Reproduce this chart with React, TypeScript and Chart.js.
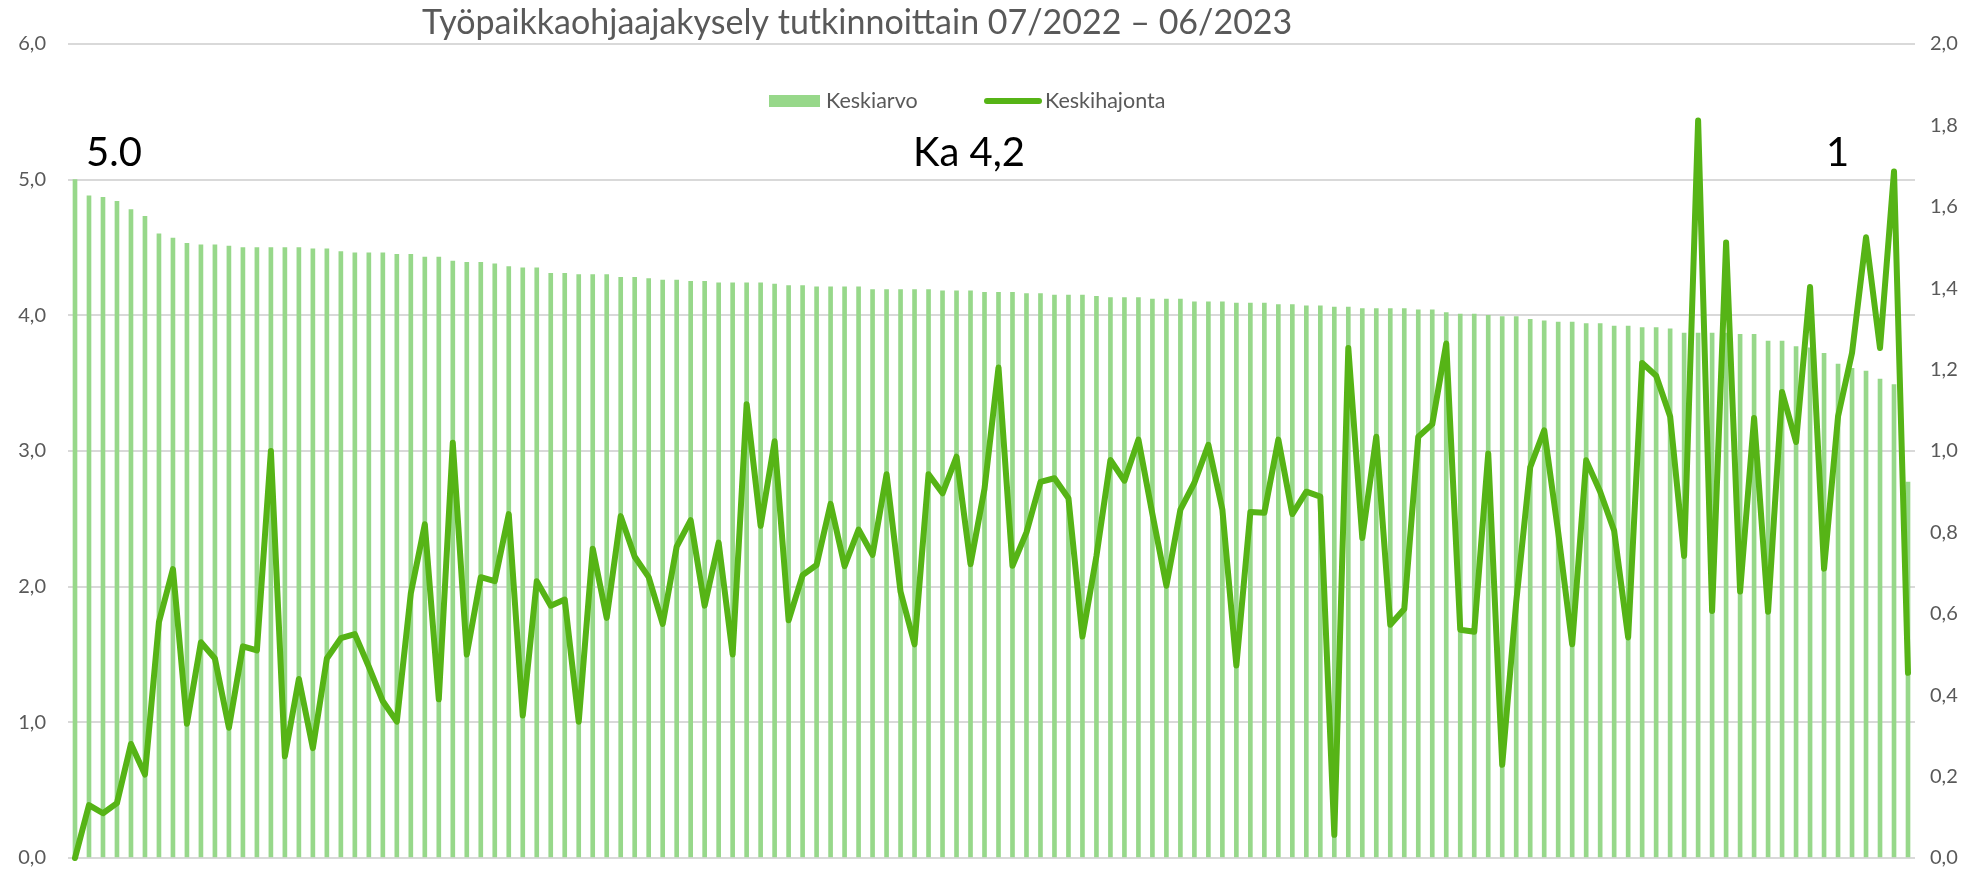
import React, { useEffect, useRef } from "react";
import { Chart, registerables } from "chart.js";

Chart.register(...registerables);

const keskiarvo: number[] = [
  5.00, 4.88, 4.87, 4.84, 4.78, 4.73, 4.60, 4.57, 4.53, 4.52,
  4.52, 4.51, 4.50, 4.50, 4.50, 4.50, 4.50, 4.49, 4.49, 4.47,
  4.46, 4.46, 4.46, 4.45, 4.45, 4.43, 4.43, 4.40, 4.39, 4.39,
  4.38, 4.36, 4.35, 4.35, 4.31, 4.31, 4.30, 4.30, 4.30, 4.28,
  4.28, 4.27, 4.26, 4.26, 4.25, 4.25, 4.24, 4.24, 4.24, 4.24,
  4.23, 4.22, 4.22, 4.21, 4.21, 4.21, 4.21, 4.19, 4.19, 4.19,
  4.19, 4.19, 4.18, 4.18, 4.18, 4.17, 4.17, 4.17, 4.16, 4.16,
  4.15, 4.15, 4.15, 4.14, 4.13, 4.13, 4.13, 4.12, 4.12, 4.12,
  4.10, 4.10, 4.10, 4.09, 4.09, 4.09, 4.08, 4.08, 4.07, 4.07,
  4.06, 4.06, 4.05, 4.05, 4.05, 4.05, 4.04, 4.04, 4.02, 4.01,
  4.01, 4.00, 3.99, 3.99, 3.97, 3.96, 3.95, 3.95, 3.94, 3.94,
  3.92, 3.92, 3.91, 3.91, 3.90, 3.87, 3.87, 3.87, 3.87, 3.86,
  3.86, 3.81, 3.81, 3.77, 3.76, 3.72, 3.64, 3.61, 3.59, 3.53,
  3.49, 2.77,
];

const keskihajonta: number[] = [
  0.00, 0.13, 0.11, 0.135, 0.28, 0.205, 0.58, 0.71, 0.33, 0.53,
  0.49, 0.32, 0.52, 0.51, 1.00, 0.25, 0.44, 0.27, 0.49, 0.54,
  0.55, 0.47, 0.385, 0.335, 0.65, 0.82, 0.39, 1.02, 0.50, 0.69,
  0.68, 0.845, 0.35, 0.68, 0.62, 0.635, 0.335, 0.76, 0.59, 0.84,
  0.74, 0.69, 0.575, 0.765, 0.83, 0.62, 0.775, 0.50, 1.115, 0.816,
  1.024, 0.584, 0.695, 0.72, 0.87, 0.717, 0.807, 0.745, 0.943, 0.654,
  0.525, 0.943, 0.896, 0.986, 0.722, 0.907, 1.205, 0.718, 0.80, 0.924,
  0.933, 0.884, 0.544, 0.742, 0.978, 0.927, 1.028, 0.845, 0.669, 0.856,
  0.922, 1.015, 0.856, 0.473, 0.850, 0.848, 1.028, 0.845, 0.90, 0.888,
  0.057, 1.253, 0.786, 1.035, 0.573, 0.612, 1.035, 1.066, 1.264, 0.561,
  0.556, 0.994, 0.229, 0.629, 0.96, 1.051, 0.80, 0.525, 0.977, 0.90,
  0.804, 0.542, 1.216, 1.185, 1.085, 0.742, 1.812, 0.607, 1.512, 0.655,
  1.081, 0.605, 1.145, 1.022, 1.403, 0.711, 1.085, 1.241, 1.525, 1.253,
  1.687, 0.455,
];

const categories: string[] = keskiarvo.map((_, i) => `Tutkinto ${i + 1}`);

const leftTickLabels = ["0,0", "1,0", "2,0", "3,0", "4,0", "5,0", "6,0"];
const rightTickLabels = ["0,0", "0,2", "0,4", "0,6", "0,8", "1,0", "1,2", "1,4", "1,6", "1,8", "2,0"];

const titleText = "Työpaikkaohjaajakysely tutkinnoittain 07/2022 – 06/2023";
const legendLabels = ["Keskiarvo", "Keskihajonta"];
const annotations = ["5.0", "Ka 4,2", "1"];

const BAR_COLOR = "#97D88A";
const LINE_COLOR = "#56B416";
const TEXT_GRAY = "#595959";
const FONT = "Lato, 'Open Sans', sans-serif";

const decorPlugin = {
  id: "decor",
  afterDraw(chart: any) {
    const ctx = chart.ctx as CanvasRenderingContext2D;
    ctx.save();
    // title
    ctx.fillStyle = TEXT_GRAY;
    ctx.font = `34px ${FONT}`;
    ctx.textAlign = "left";
    ctx.textBaseline = "alphabetic";
    ctx.fillText(titleText, 422, 34);

    // legend
    ctx.fillStyle = BAR_COLOR;
    ctx.fillRect(769, 95, 51, 12);
    ctx.fillStyle = TEXT_GRAY;
    ctx.font = `21.5px ${FONT}`;
    ctx.textBaseline = "middle";
    ctx.fillText(legendLabels[0], 826, 101);
    ctx.strokeStyle = LINE_COLOR;
    ctx.lineWidth = 6;
    ctx.lineCap = "round";
    ctx.beginPath();
    ctx.moveTo(987, 101);
    ctx.lineTo(1039, 101);
    ctx.stroke();
    ctx.fillText(legendLabels[1], 1045, 101);

    // annotations
    ctx.fillStyle = "#000000";
    ctx.font = `40px ${FONT}`;
    ctx.textBaseline = "alphabetic";
    ctx.fillText(annotations[0], 86, 166);
    ctx.fillText(annotations[1], 913, 166);
    ctx.fillText(annotations[2], 1826, 166);
    ctx.restore();
  },
};

export default function App() {
  const canvasRef = useRef<HTMLCanvasElement | null>(null);

  useEffect(() => {
    const canvas = canvasRef.current;
    if (!canvas) return;
    const chart = new Chart(canvas, {
      type: "bar",
      data: {
        labels: categories,
        datasets: [
          {
            type: "line",
            label: legendLabels[1],
            data: keskihajonta,
            yAxisID: "y1",
            borderColor: LINE_COLOR,
            backgroundColor: LINE_COLOR,
            borderWidth: 6,
            pointRadius: 0,
            tension: 0,
            borderJoinStyle: "round",
            borderCapStyle: "round",
            clip: false,
            order: 0,
          } as any,
          {
            type: "bar",
            label: legendLabels[0],
            data: keskiarvo,
            yAxisID: "y",
            backgroundColor: BAR_COLOR,
            borderWidth: 0,
            barThickness: 4,
            order: 1,
          } as any,
        ],
      },
      plugins: [decorPlugin],
      options: {
        responsive: false,
        animation: false,
        devicePixelRatio: 1,
        layout: { padding: { left: 0, right: 0, top: 44, bottom: 14 } },
        plugins: {
          legend: { display: false },
          title: { display: false },
          tooltip: { enabled: false },
        },
        scales: {
          x: {
            type: "category",
            display: false,
            offset: true,
            grid: { display: false },
            afterFit: (s: any) => { s.height = 0; },
          },
          y: {
            position: "left",
            min: 0,
            max: 6,
            afterFit: (s: any) => { s.width = 68; },
            ticks: {
              stepSize: 1,
              padding: 1,
              color: TEXT_GRAY,
              font: { family: FONT, size: 20 },
              callback: (_v: any, i: number) => leftTickLabels[i],
            },
            grid: {
              color: "#D9D9D9",
              lineWidth: 2,
              drawTicks: true,
              tickLength: 21,
              tickColor: "rgba(0,0,0,0)",
            },
            border: { display: false },
          },
          y1: {
            position: "right",
            min: 0,
            max: 2,
            afterFit: (s: any) => { s.width = 73; },
            ticks: {
              stepSize: 0.2,
              padding: 1,
              color: TEXT_GRAY,
              font: { family: FONT, size: 20 },
              callback: (_v: any, i: number) => rightTickLabels[i],
            },
            grid: {
              drawOnChartArea: false,
              drawTicks: true,
              tickLength: 14,
              tickColor: "rgba(0,0,0,0)",
              color: "rgba(0,0,0,0)",
            },
            border: { display: false },
          },
        },
      } as any,
    });
    return () => chart.destroy();
  }, []);

  return (
    <div style={{ position: "fixed", left: 0, top: 0, width: 1988, height: 872, background: "#fff" }}>
      <canvas ref={canvasRef} width={1988} height={872} style={{ width: 1988, height: 872, display: "block" }} />
    </div>
  );
}
